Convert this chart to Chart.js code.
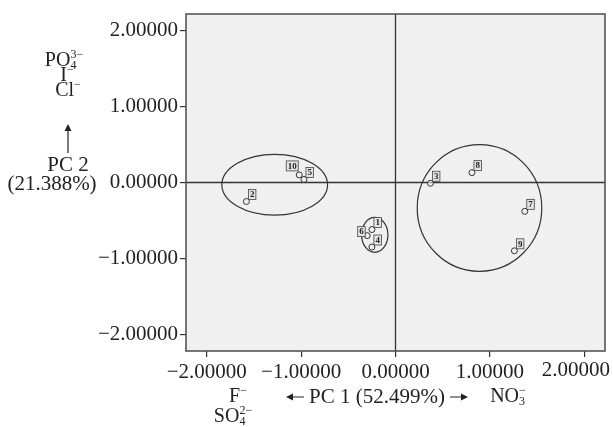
<!DOCTYPE html>
<html>
<head>
<meta charset="utf-8">
<script src="https://cdn.jsdelivr.net/npm/chart.js@4.4.0/dist/chart.umd.min.js"></script>
<style>
  html, body { margin: 0; padding: 0; background: #fff; }
  #wrap { position: relative; width: 613px; height: 427px; }
</style>
</head>
<body>
<div id="wrap"><canvas id="pca"></canvas></div>
<script>
// sample scores
const pointLabels = ['1', '2', '3', '4', '5', '6', '7', '8', '9', '10'];
const pc1Scores = [-0.25, -1.58, 0.37, -0.25, -0.97, -0.30, 1.37, 0.81, 1.26, -1.02];
const pc2Scores = [-0.62, -0.25, -0.01, -0.85, 0.04, -0.70, -0.38, 0.13, -0.90, 0.10];
const axisTicks = [-2, -1, 0, 1, 2];

// grouping ellipses (data units)
const groupCenterX = [-1.28, -0.22, 0.89];
const groupCenterY = [-0.03, -0.69, -0.335];
const groupRadiusX = [0.56, 0.14, 0.66];
const groupRadiusY = [0.40, 0.23, 0.835];

const FONT = '"Liberation Serif", "Times New Roman", serif';
const INK = '#222';

function fmt(v) {
    const s = Math.abs(v).toFixed(5);
    return v < 0 ? '\u2212' + s : s;
}

// base text with stacked sup/sub, centred on x
function chem(ctx, base, sup, sub, x, y) {
    ctx.font = '20px ' + FONT;
    const bw = ctx.measureText(base).width;
    ctx.font = '12px ' + FONT;
    const sw = Math.max(sup ? ctx.measureText(sup).width : 0, sub ? ctx.measureText(sub).width : 0);
    const x0 = x - (bw + sw) / 2;
    ctx.textAlign = 'left';
    ctx.textBaseline = 'middle';
    ctx.font = '20px ' + FONT;
    ctx.fillText(base, x0, y);
    ctx.font = '12px ' + FONT;
    if (sup) ctx.fillText(sup, x0 + bw, y - 6);
    if (sub) ctx.fillText(sub, x0 + bw, y + 5);
}

function arrowHead(ctx, x, y, dx, dy) {
    const len = 7, w = 3.5;
    ctx.beginPath();
    ctx.moveTo(x, y);
    ctx.lineTo(x - dx * len - dy * w, y - dy * len + dx * w);
    ctx.lineTo(x - dx * len + dy * w, y - dy * len - dx * w);
    ctx.closePath();
    ctx.fill();
}

const decor = {
    id: 'decor',
    beforeDraw(chart) {
        const { ctx, chartArea: a } = chart;
        ctx.save();
        ctx.fillStyle = '#f0f0f0';
        ctx.fillRect(a.left, a.top, a.right - a.left, a.bottom - a.top);
        ctx.restore();
    },
    beforeDatasetsDraw(chart) {
        const { ctx, chartArea: a, scales: { x, y } } = chart;
        ctx.save();
        ctx.strokeStyle = '#333';
        ctx.lineWidth = 1.3;
        // zero reference lines
        ctx.beginPath();
        ctx.moveTo(x.getPixelForValue(0), a.top);
        ctx.lineTo(x.getPixelForValue(0), a.bottom);
        ctx.moveTo(a.left, y.getPixelForValue(0));
        ctx.lineTo(a.right, y.getPixelForValue(0));
        ctx.stroke();
        // group ellipses
        ctx.lineWidth = 1.2;
        groupCenterX.forEach((cx, i) => {
            const px = x.getPixelForValue(cx), py = y.getPixelForValue(groupCenterY[i]);
            const rx = Math.abs(x.getPixelForValue(cx + groupRadiusX[i]) - px);
            const ry = Math.abs(y.getPixelForValue(groupCenterY[i] + groupRadiusY[i]) - py);
            ctx.beginPath();
            ctx.ellipse(px, py, rx, ry, 0, 0, Math.PI * 2);
            ctx.stroke();
        });
        ctx.restore();
    },
    afterDraw(chart) {
        const { ctx, chartArea: a, scales: { x, y } } = chart;
        ctx.save();
        // point labels in small boxes
        ctx.font = 'bold 9px ' + FONT;
        ctx.textBaseline = 'middle';
        ctx.textAlign = 'center';
        pointLabels.forEach((lab, i) => {
            const px = x.getPixelForValue(pc1Scores[i]), py = y.getPixelForValue(pc2Scores[i]);
            const w = ctx.measureText(lab).width + 3, h = 10;
            let bx = px + 2, by = py - 12;
            if (lab === '10') { bx = px - w - 1; by = py - 14; }
            if (lab === '6') { bx = px - w - 2; by = py - 9; }
            ctx.fillStyle = '#e4e4e4';
            ctx.fillRect(bx, by, w, h);
            ctx.strokeStyle = '#444';
            ctx.lineWidth = 0.8;
            ctx.strokeRect(bx, by, w, h);
            ctx.fillStyle = INK;
            ctx.fillText(lab, bx + w / 2, by + h / 2 + 0.5);
        });
        // plot frame
        ctx.strokeStyle = '#555';
        ctx.lineWidth = 1.6;
        ctx.strokeRect(a.left, a.top, a.right - a.left, a.bottom - a.top);

        // last x tick label, pulled in so it stays on the canvas
        ctx.fillStyle = INK;
        ctx.font = '21px ' + FONT;
        ctx.textAlign = 'right';
        ctx.textBaseline = 'top';
        const last = axisTicks[axisTicks.length - 1];
        ctx.fillText(fmt(last), chart.width - 3, a.bottom + 9);

        // vertical axis loadings
        ctx.strokeStyle = INK;
        chem(ctx, 'PO', '3\u2212', '4', 64, 61);
        chem(ctx, 'I', '\u2212', '', 67, 76);
        chem(ctx, 'Cl', '\u2212', '', 68, 91);
        ctx.lineWidth = 1.2;
        ctx.beginPath();
        ctx.moveTo(68, 153);
        ctx.lineTo(68, 130);
        ctx.stroke();
        arrowHead(ctx, 68, 124, 0, -1);
        ctx.font = '21px ' + FONT;
        ctx.textAlign = 'center';
        ctx.textBaseline = 'middle';
        ctx.fillText('PC 2', 68, 165);
        ctx.fillText('(21.388%)', 52, 184);

        // horizontal axis loadings
        chem(ctx, 'F', '\u2212', '', 238, 397);
        chem(ctx, 'SO', '2\u2212', '4', 233, 417);
        chem(ctx, 'NO', '\u2212', '3', 508, 397);
        ctx.font = '21px ' + FONT;
        ctx.textAlign = 'center';
        ctx.fillText('PC 1 (52.499%)', 377, 397);
        ctx.lineWidth = 1.2;
        ctx.beginPath();
        ctx.moveTo(291, 397);
        ctx.lineTo(304, 397);
        ctx.moveTo(450, 397);
        ctx.lineTo(463, 397);
        ctx.stroke();
        arrowHead(ctx, 286, 397, -1, 0);
        arrowHead(ctx, 468, 397, 1, 0);
        ctx.restore();
    }
};

const setTicks = scale => { scale.ticks = axisTicks.map(v => ({ value: v })); };

new Chart(document.getElementById('pca'), {
    type: 'scatter',
    data: {
        datasets: [{
            data: pc1Scores.map((v, i) => ({ x: v, y: pc2Scores[i] })),
            pointStyle: 'circle',
            pointRadius: 3,
            pointBorderWidth: 1,
            pointBorderColor: '#333',
            pointBackgroundColor: 'rgba(240,240,240,0.6)'
        }]
    },
    options: {
        responsive: true,
        maintainAspectRatio: false,
        animation: false,
        devicePixelRatio: 1,
        layout: { padding: { top: 14, right: 8, left: 0, bottom: 0 } },
        plugins: { legend: { display: false }, tooltip: { enabled: false } },
        scales: {
            x: {
                type: 'linear',
                min: -2.22,
                max: 2.22,
                afterBuildTicks: setTicks,
                afterFit: s => { s.height = 76; s.paddingLeft = 0; s.paddingRight = 0; },
                grid: { drawOnChartArea: false, drawTicks: true, tickLength: 6, color: '#333', lineWidth: 1.2 },
                border: { display: false },
                ticks: {
                    color: INK, padding: 3, maxRotation: 0, font: { family: FONT, size: 21 },
                    callback: v => (v === axisTicks[axisTicks.length - 1] ? '' : fmt(v))
                }
            },
            y: {
                type: 'linear',
                min: -2.22,
                max: 2.22,
                afterBuildTicks: setTicks,
                afterFit: s => { s.width = 186; s.paddingTop = 0; s.paddingBottom = 0; },
                grid: { drawOnChartArea: false, drawTicks: true, tickLength: 6, color: '#333', lineWidth: 1.2 },
                border: { display: false },
                ticks: { color: INK, padding: 2, font: { family: FONT, size: 21 }, callback: v => fmt(v) }
            }
        }
    },
    plugins: [decor]
});
</script>
</body>
</html>
